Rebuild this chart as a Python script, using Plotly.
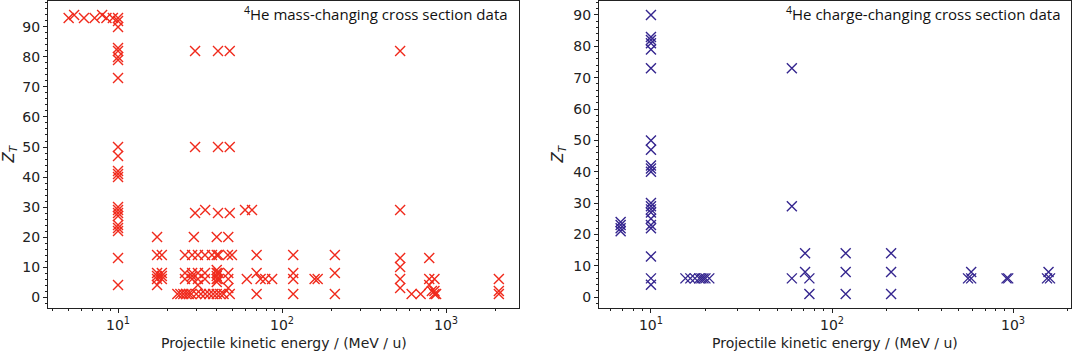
import plotly.graph_objects as go

# ---- data: 4He mass-changing cross sections (energy MeV/u, target Z) ----
mass_energy = [5.0, 5.4, 6.2, 7.2, 8.0, 8.5, 9.3,
               10, 10, 10, 10, 10, 10, 10, 10, 10, 10, 10, 10, 10, 10, 10, 10, 10, 10, 10, 10, 10, 10,
               17.3, 17.3, 17.3, 17.3, 17.3, 17.3, 18.5, 18.5, 18.5, 18.5,
               23, 24, 25, 26, 27, 28, 30, 32, 34, 36, 38, 40, 42, 44, 48,
               25.6, 28.3, 30.7, 33.9, 37.4, 40, 41, 46.8, 49.5, 70, 117, 210,
               29, 40, 47,
               29.5, 34, 40.7, 48, 59.5, 65.6,
               29.5, 40.7, 48,
               29.5, 40.7, 48, 525,
               25.6, 25.6, 28.3, 28.3, 28.3, 30.7, 30.7, 30.7, 33.9, 33.9,
               40, 40, 40, 40, 40, 41, 41, 47, 47, 47, 61, 70, 70,
               74, 79, 87, 117, 117, 117, 158, 165, 210, 210,
               525, 525, 525, 525, 525, 617, 700, 790, 790, 790, 820, 850, 850, 850, 870,
               2100, 2100, 2100]
mass_z = [93, 94, 93, 93, 94, 93, 93,
          93, 92, 90, 83, 82, 80, 79, 73, 50, 47, 42, 41, 40, 30, 29, 28, 27, 24, 23, 22, 13, 4,
          20, 14, 8, 7, 6, 4, 14, 8, 7, 6,
          1, 1, 1, 1, 1, 1, 1, 1, 1, 1, 1, 1, 1, 1, 1,
          14, 14, 14, 14, 14, 14, 14, 14, 14, 14, 14, 14,
          20, 20, 20,
          28, 29, 28, 28, 29, 29,
          50, 50, 50,
          82, 82, 82, 82,
          8, 6, 8, 7, 6, 8, 6, 4, 8, 6,
          9, 8, 7, 6, 5, 8, 6, 8, 6, 3, 6, 8, 1,
          6, 6, 6, 8, 6, 1, 6, 6, 8, 1,
          29, 13, 10, 6, 3, 1, 1, 13, 6, 4, 2, 6, 2, 1, 1,
          6, 2, 1]

# ---- data: 4He charge-changing cross sections ----
charge_energy = [6.8, 6.8, 6.8, 6.8,
                 10, 10, 10, 10, 10, 10, 10, 10, 10, 10, 10, 10, 10, 10, 10, 10, 10, 10, 10, 10, 10,
                 15.5, 16.5, 17.5, 18.5, 19, 19.5, 20, 21,
                 60, 60, 60, 71, 71, 75, 75,
                 119, 119, 119, 212, 212, 212,
                 564, 587, 587, 920, 940, 1540, 1570, 1600]
charge_z = [24, 23, 22, 21,
            90, 83, 82, 81, 79, 73, 50, 47, 42, 41, 40, 30, 29, 28, 27, 25, 23, 22, 13, 6, 4,
            6, 6, 6, 6, 6, 6, 6, 6,
            73, 29, 6, 14, 8, 6, 1,
            14, 8, 1, 14, 8, 1,
            6, 8, 6, 6, 6, 6, 8, 6]

x_tickvals = [10, 100, 1000]
x_ticktext = ["10<sup>1</sup>", "10<sup>2</sup>", "10<sup>3</sup>"]
x_minor = [m * 10 ** k for k in range(0, 4) for m in range(2, 10)]
y_tickvals = [0, 10, 20, 30, 40, 50, 60, 70, 80, 90]

RED = "#f02a1c"
BLUE = "#35268f"
INK = "#222222"
TICKFONT = dict(family="DejaVu Sans", size=14, color=INK)

fig = go.Figure()
fig.add_trace(go.Scatter(x=mass_energy, y=mass_z, mode="markers", xaxis="x", yaxis="y",
                         marker=dict(symbol="x-thin-open", size=10, color=RED,
                                     line=dict(color=RED, width=1.4)),
                         showlegend=False, hoverinfo="skip"))
fig.add_trace(go.Scatter(x=charge_energy, y=charge_z, mode="markers", xaxis="x2", yaxis="y2",
                         marker=dict(symbol="x-thin-open", size=10, color=BLUE,
                                     line=dict(color=BLUE, width=1.4)),
                         showlegend=False, hoverinfo="skip"))

def xax(domain, rng, anchor):
    return dict(type="log", domain=domain, range=rng, anchor=anchor, automargin=False,
                tickvals=x_tickvals, ticktext=x_ticktext, ticks="outside", ticklen=4,
                tickcolor=INK, tickfont=TICKFONT, showgrid=False, zeroline=False,
                showline=True, linecolor=INK, linewidth=1, mirror=True,
                minor=dict(tickvals=x_minor, ticks="outside", ticklen=2, tickcolor=INK))

def yax(domain, rng, anchor):
    return dict(domain=domain, range=rng, anchor=anchor, tickvals=y_tickvals, automargin=False,
                ticks="outside", ticklen=4, tickcolor=INK, tickfont=TICKFONT,
                showgrid=False, zeroline=False, showline=True, linecolor=INK,
                linewidth=1, mirror=True,
                minor=dict(dtick=2, ticks="outside", ticklen=2, tickcolor=INK))

ann_font = dict(family="Open Sans", size=15, color="#111")
title_font = dict(family="DejaVu Sans", size=14, color=INK)

fig.update_layout(
    width=1072, height=352,
    margin=dict(l=0, r=0, t=1, b=44),
    plot_bgcolor="white", paper_bgcolor="white",
    xaxis=xax([48 / 1072, 519 / 1072], [0.573, 3.445], "y"),
    yaxis=yax([0, 1], [-3.65, 98.65], "x"),
    xaxis2=xax([599 / 1072, 1071 / 1072], [0.713, 3.32], "y2"),
    yaxis2=yax([0, 1], [-3.45, 94.45], "x2"),
    annotations=[
        dict(text="<sup>4</sup>He mass-changing cross section data", xref="paper", yref="paper",
             x=510 / 1072, y=1, xanchor="right", yanchor="top", showarrow=False, font=ann_font),
        dict(text="<sup>4</sup>He charge-changing cross section data", xref="paper", yref="paper",
             x=1062 / 1072, y=1, xanchor="right", yanchor="top", showarrow=False, font=ann_font),
        dict(text="Projectile kinetic energy / (MeV / u)", xref="paper", yref="paper",
             x=(48 + 519) / 2 / 1072, y=-0.113, xanchor="center", yanchor="middle",
             showarrow=False, font=title_font),
        dict(text="Projectile kinetic energy / (MeV / u)", xref="paper", yref="paper",
             x=(599 + 1071) / 2 / 1072, y=-0.113, xanchor="center", yanchor="middle",
             showarrow=False, font=title_font),
        dict(text="<i>Z</i><sub><i>T</i></sub>", xref="paper", yref="paper",
             x=9 / 1072, y=0.5, xanchor="center", yanchor="middle", textangle=-90,
             showarrow=False, font=dict(family="DejaVu Sans", size=15, color=INK)),
        dict(text="<i>Z</i><sub><i>T</i></sub>", xref="paper", yref="paper",
             x=558 / 1072, y=0.5, xanchor="center", yanchor="middle", textangle=-90,
             showarrow=False, font=dict(family="DejaVu Sans", size=15, color=INK)),
    ],
)

fig.write_html("out.html", config={"displayModeBar": False},
               post_script="document.body.style.margin='0';document.body.style.overflow='hidden';")
